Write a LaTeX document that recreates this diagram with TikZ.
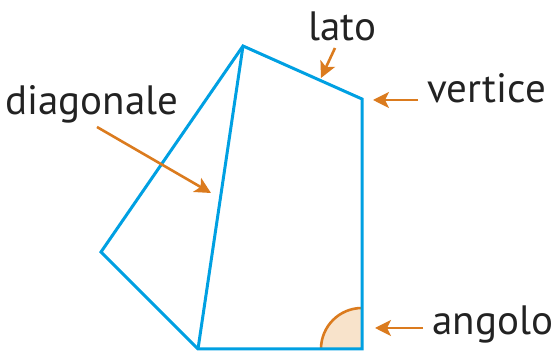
\documentclass[tikz,border=0pt]{standalone}
\usepackage{fontspec}
\setmainfont{PT Sans}
\usetikzlibrary{arrows.meta,calc}
\definecolor{polyBlue}{HTML}{00A0E2}
\definecolor{labelOrange}{HTML}{DB7B1E}
\definecolor{angleFill}{HTML}{F8E3CB}
\definecolor{labelInk}{HTML}{222222}
\tikzset{
  side/.style={
    draw=polyBlue,
    line width=1.5pt,
    line join=miter
  },
  pointer/.style={
    -{Stealth[length=8pt,width=8pt,inset=2pt]},
    draw=labelOrange,
    line width=1.3pt
  },
  label/.style={
    anchor=base west,
    inner sep=0pt,
    text=labelInk,
    font=\fontsize{20.5}{24}\selectfont
  }
}
\begin{document}
\begin{tikzpicture}[x=0.5pt,y=-0.5pt]
  \useasboundingbox (0,0) rectangle (553,351);
  % vertices
  \coordinate (top) at (243,46);
  \coordinate (right) at (362,99);
  \coordinate (corner) at (362,349);
  \coordinate (bottom) at (198,349);
  \coordinate (left) at (101,252);
  % angle
  \fill[angleFill] (corner) -- ++(-41,0) arc[start angle=180,end angle=90,radius=20.5pt] -- cycle;
  \draw[labelOrange,line width=1.3pt] ($(corner)+(-41,0)$) arc[start angle=180,end angle=90,radius=20.5pt];
  % polygon and diagonal
  \draw[side] (top) -- (right) -- (corner) -- (bottom) -- (left) -- cycle;
  \draw[side] (top) -- (bottom);
  % labels
  \node[label] (lato) at (308,41) {lato};
  \node[label] (vertice) at (427,103) {vertice};
  \node[label] (diagonale) at (5,115) {diagonale};
  \node[label] (angolo) at (432,335) {angolo};
  \coordinate (latoFrom) at (335,48);
  \coordinate (latoTip) at (321,78);
  \coordinate (verticeFrom) at (418,100);
  \coordinate (verticeTip) at (373,100);
  \coordinate (diagFrom) at (97,127);
  \coordinate (diagTip) at (211,193);
  \coordinate (angoloFrom) at (423,328);
  \coordinate (angoloTip) at (375,328);
  \draw[pointer] (latoFrom) -- (latoTip);
  \draw[pointer] (verticeFrom) -- (verticeTip);
  \draw[pointer] (diagFrom) -- (diagTip);
  \draw[pointer] (angoloFrom) -- (angoloTip);
\end{tikzpicture}
\end{document}
